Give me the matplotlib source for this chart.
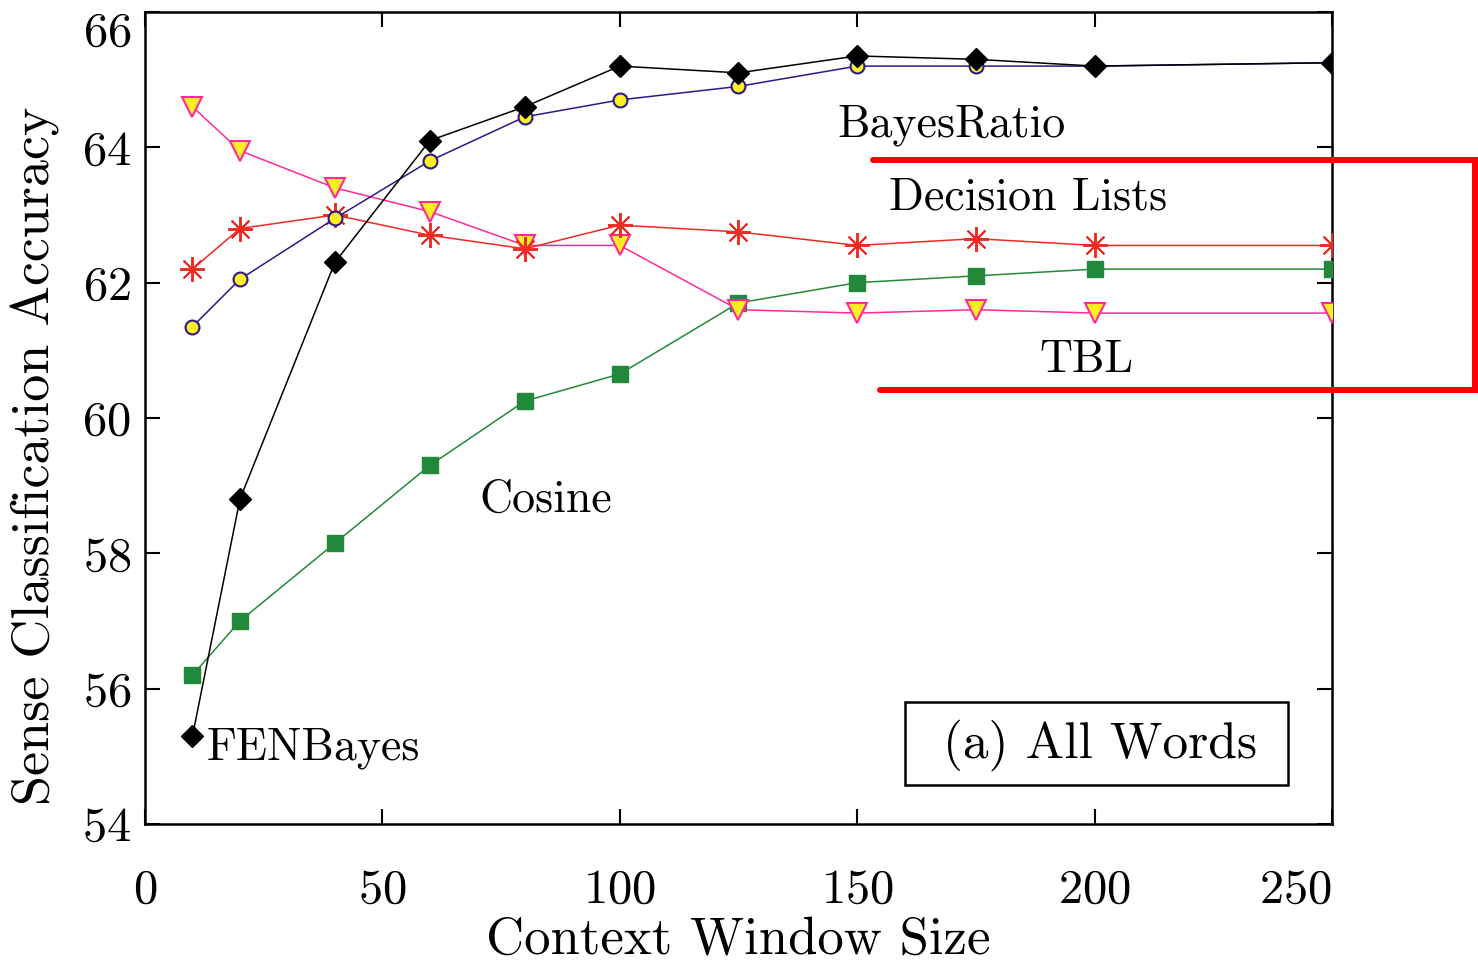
import matplotlib
matplotlib.use("Agg")
import matplotlib.pyplot as plt
from matplotlib.lines import Line2D
from matplotlib.patches import Rectangle

plt.rcParams['font.family'] = ['cmr10', 'DejaVu Serif']
plt.rcParams['axes.formatter.use_mathtext'] = True
plt.rcParams['mathtext.fontset'] = 'cm'

window = [10, 20, 40, 60, 80, 100, 125, 150, 175, 200, 250]
fenbayes = [55.3, 58.8, 62.3, 64.1, 64.6, 65.2, 65.1, 65.35, 65.3, 65.2, 65.25]
bayes_ratio = [61.35, 62.05, 62.95, 63.8, 64.45, 64.7, 64.9, 65.2, 65.2, 65.2, 65.25]
decision_lists = [62.2, 62.8, 63.0, 62.7, 62.5, 62.85, 62.75, 62.55, 62.65, 62.55, 62.55]
tbl = [64.6, 63.95, 63.4, 63.05, 62.55, 62.55, 61.6, 61.55, 61.6, 61.55, 61.55]
cosine = [56.2, 57.0, 58.15, 59.3, 60.25, 60.65, 61.7, 62.0, 62.1, 62.2, 62.2]

x_ticks = [0, 50, 100, 150, 200, 250]
y_ticks = [54, 56, 58, 60, 62, 64, 66]

fig = plt.figure(figsize=(14.78, 9.64), dpi=100)
ax = fig.add_axes([0.0981, 0.1452, 0.8031, 0.8424])

ax.plot(window, cosine, color='#23893a', lw=1.1, marker='s', ms=11,
        mfc='#23893a', mec='#23893a', zorder=3)
ax.plot(window, tbl, color='#ff2a9a', lw=1.1, marker='v', ms=14,
        mfc='#ffee22', mec='#ff2a9a', mew=1.5, zorder=3)
ax.plot(window, decision_lists, color='#ee2a22', lw=1.1, marker=(8, 2, 0), ms=18,
        mec='#ee2a22', mew=1.4, zorder=3)
ax.plot(window, bayes_ratio, color='#2a1a8a', lw=1.1, marker='o', ms=10,
        mfc='#ffee22', mec='#2a1a8a', mew=1.5, zorder=4)
ax.plot(window, fenbayes, color='black', lw=1.1, marker='D', ms=11,
        mfc='black', mec='black', zorder=5)

ax.set_xlim(0, 250)
ax.set_ylim(54, 66)
ax.set_xticks(x_ticks)
ax.set_yticks(y_ticks)
ax.tick_params(direction='in', length=11, width=1.5, labelsize=35,
               top=True, right=True)
ax.tick_params(axis='x', pad=32)
ax.tick_params(axis='y', pad=10)
for s in ax.spines.values():
    s.set_linewidth(1.8)
xl = ax.get_xticklabels()
xl[-1].set_horizontalalignment('right')
yl = ax.get_yticklabels()
yl[-1].set_verticalalignment('top')

ax.set_xlabel('Context Window Size', fontsize=38, labelpad=3)
ax.set_ylabel('Sense Classification Accuracy', fontsize=39)
ax.yaxis.set_label_coords(-0.072, 0.454)

ax.text(145.9, 64.33, 'BayesRatio', fontsize=33, va='center')
ax.text(156.8, 63.26, 'Decision Lists', fontsize=33, va='center')
ax.text(188.4, 60.85, 'TBL', fontsize=33, va='center')
ax.text(70.5, 58.79, 'Cosine', fontsize=33, va='center')
ax.text(13.0, 55.12, 'FENBayes', fontsize=33, va='center')

ax.add_patch(Rectangle((0.640, 0.048), 0.323, 0.102, transform=ax.transAxes,
                       fc='white', ec='black', lw=1.8, zorder=6))
ax.text(0.8045, 0.097, '(a) All Words', fontsize=37, transform=ax.transAxes,
        ha='center', va='center', zorder=7)

# red bracket highlighting the middle group
bracket = Line2D([0.5907, 0.998, 0.998, 0.5954], [0.834, 0.834, 0.5954, 0.5954],
                 transform=fig.transFigure, color='#ff0000', lw=4.3,
                 solid_capstyle='round', solid_joinstyle='miter')
fig.add_artist(bracket)

fig.savefig('out.png', dpi=100)
